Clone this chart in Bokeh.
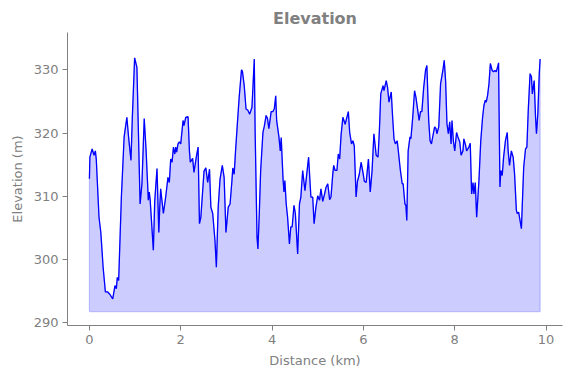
from bokeh.plotting import figure
from bokeh.models import FixedTicker, Range1d
from bokeh.embed import file_html
from bokeh.resources import INLINE

# Distance (km) and elevation (m)
distance = [
    0.00, 0.01, 0.06, 0.10, 0.13, 0.15, 0.21, 0.25, 0.30, 0.35, 0.40, 0.45, 0.51, 0.56, 0.59, 0.61, 0.64,
    0.70, 0.76, 0.82, 0.86, 0.91, 0.94, 0.99, 1.04, 1.11, 1.15, 1.20, 1.24, 1.29, 1.31, 1.33, 1.40, 1.43,
    1.48, 1.52, 1.54,
    1.56, 1.62, 1.67, 1.72, 1.75, 1.78, 1.81, 1.84, 1.87, 1.89, 1.91, 1.94, 1.97, 2.00, 2.05, 2.07, 2.11,
    2.16, 2.19, 2.21, 2.26, 2.29, 2.34, 2.38, 2.41, 2.44, 2.48, 2.51, 2.55, 2.59, 2.63, 2.66, 2.70, 2.75,
    2.78, 2.82, 2.86, 2.91, 2.95, 2.99, 3.04, 3.08, 3.12, 3.14, 3.17, 3.20, 3.24, 3.28,
    3.33, 3.35, 3.39, 3.43, 3.47, 3.51, 3.56, 3.61, 3.63, 3.67, 3.69, 3.72, 3.75, 3.80, 3.83, 3.87, 3.90,
    3.93, 3.98, 4.02, 4.05, 4.08, 4.10, 4.15, 4.18, 4.20, 4.24, 4.26, 4.28, 4.31, 4.34, 4.38, 4.41, 4.44,
    4.48, 4.51, 4.56, 4.60, 4.63, 4.67, 4.72, 4.76, 4.80, 4.85, 4.89, 4.92,
    4.96, 5.00, 5.04, 5.07, 5.11, 5.15, 5.18, 5.22, 5.26, 5.29, 5.33, 5.35, 5.38, 5.42, 5.45, 5.48, 5.51,
    5.55, 5.60, 5.67, 5.70, 5.74, 5.77, 5.80, 5.84, 5.87, 5.91, 5.95, 5.99, 6.02, 6.06, 6.11, 6.15, 6.19,
    6.23, 6.28, 6.32, 6.35, 6.38, 6.43, 6.45, 6.50, 6.53, 6.56, 6.61, 6.64,
    6.67, 6.70, 6.74, 6.76, 6.81, 6.85, 6.87, 6.91, 6.93, 6.95, 6.98, 7.02, 7.04, 7.08, 7.12, 7.15, 7.19,
    7.22, 7.25, 7.28, 7.32, 7.36, 7.39, 7.43, 7.46, 7.49, 7.53, 7.56, 7.59, 7.61, 7.65, 7.69, 7.74, 7.77,
    7.80, 7.83, 7.86, 7.89, 7.92, 7.94, 7.97, 8.00, 8.04, 8.07, 8.11, 8.14, 8.18, 8.20, 8.24, 8.26,
    8.31, 8.34, 8.37, 8.40, 8.42, 8.45, 8.48, 8.53, 8.57, 8.61, 8.64, 8.67, 8.69, 8.72, 8.75, 8.78, 8.82,
    8.85, 8.88, 8.91, 8.94, 8.96, 8.99, 9.01, 9.04, 9.07, 9.11, 9.15, 9.17, 9.20, 9.24, 9.28, 9.31, 9.35,
    9.37, 9.40, 9.43, 9.46, 9.51, 9.55, 9.58, 9.61, 9.65, 9.68, 9.70, 9.74, 9.77, 9.79, 9.82, 9.85, 9.87,
]
elevation = [
    312.8, 316.2, 317.5, 316.5, 317.2, 315.9, 306.7, 304.3, 298.8, 294.9, 294.9, 294.5, 293.8, 295.9, 295.4,
    297.2, 296.7, 309.9, 319.4, 322.5, 319.2, 315.7, 322.5, 331.9, 330.4, 308.8, 312.0, 322.3, 317.5, 309.4,
    310.7, 309.5, 301.5, 309.2, 314.4, 304.3, 308.3,
    311.2, 307.3, 309.9, 313.0, 312.2, 315.9, 315.4, 317.8, 316.7, 317.8, 317.0, 318.3, 318.6, 318.3, 322.0,
    321.2, 322.5, 322.6, 317.2, 315.4, 316.0, 313.8, 316.2, 317.8, 305.7, 306.7, 310.9, 314.0, 314.5, 312.2,
    314.3, 308.3, 307.3, 303.0, 298.8, 308.3, 312.7, 314.9, 313.0, 304.3, 308.3, 308.8, 312.4, 314.5, 313.5,
    317.2, 321.5, 325.7,
    330.0, 329.8, 327.5, 323.8, 323.6, 323.0, 324.1, 331.7, 319.9, 303.6, 301.7, 307.3, 314.1, 320.1, 321.1,
    322.8, 322.3, 320.7, 323.4, 323.4, 323.9, 325.9, 322.0, 319.4, 317.2, 319.3, 312.8, 310.7, 312.5, 308.8,
    306.7, 302.5, 305.2, 305.2, 308.6, 307.3, 300.9, 308.8, 309.9, 314.1, 310.9, 313.6, 316.2, 309.9, 309.9,
    305.7,
    308.3, 310.1, 309.4, 311.2, 309.2, 310.4, 311.4, 312.0, 309.5, 309.9, 313.6, 314.9, 314.1, 314.1, 316.7,
    315.9, 319.6, 322.5, 321.4, 323.4, 320.1, 318.3, 318.8, 318.0, 309.9, 312.4, 313.5, 315.4, 313.8, 312.4,
    312.2, 315.9, 310.7, 314.1, 319.9, 316.5, 316.2, 320.4, 326.2, 327.5, 326.7, 328.3, 327.2, 324.9, 326.5,
    322.5,
    319.1, 318.3, 318.8, 317.5, 314.1, 312.0, 312.0, 308.8, 308.6, 306.2, 317.2, 319.4, 319.1, 322.5, 326.7,
    325.7, 323.6, 322.0, 323.4, 323.4, 327.2, 329.9, 330.7, 322.0, 318.8, 318.3, 319.9, 321.0, 320.7, 319.9,
    321.0, 327.8, 329.9, 331.5, 328.3, 321.5, 319.9, 321.8, 318.3, 322.0, 318.8, 317.2, 320.1, 319.4, 318.6,
    316.5, 317.2, 319.1, 318.0, 317.2,
    317.8, 318.4, 310.4, 312.2, 310.4, 312.2, 306.7, 312.5, 318.8, 322.5, 324.4, 325.2, 324.9, 326.0, 327.8,
    331.0, 329.9, 329.7, 329.9, 329.7, 330.5, 331.1, 311.5, 314.1, 313.3, 316.2, 318.8, 320.1, 317.2, 314.9,
    317.2, 316.2, 313.6, 307.8, 307.3, 307.5, 306.2, 304.9, 314.6, 317.5, 317.8, 323.6, 329.4, 328.9, 326.2,
    328.3, 322.5, 319.9, 323.1, 329.2, 331.7,
]
x_ticks = [0, 2, 4, 6, 8, 10]
y_ticks = [290, 300, 310, 320, 330]

base = min(elevation) - 2.0

GRAY = "#808080"
FONT = "DejaVu Sans"

p = figure(width=571, height=378, output_backend="svg", toolbar_location=None,
           x_range=Range1d(-0.48, 10.36), y_range=Range1d(289.6, 335.9),
           min_border_left=67, min_border_right=9, min_border_top=32, min_border_bottom=53,
           title="Elevation")

p.title.align = "center"
p.title.text_font = FONT
p.title.text_font_size = "16px"
p.title.text_font_style = "bold"
p.title.text_color = GRAY

px = [distance[0]] + distance + [distance[-1]]
py = [base] + elevation + [base]
p.patch(px, py, fill_color="blue", fill_alpha=0.2, line_color="blue", line_alpha=0.2, line_width=1.2)
p.line(distance, elevation, line_color="blue", line_width=1.3)

p.outline_line_color = None
p.grid.visible = False

for ax, ticks, label in ((p.xaxis[0], x_ticks, "Distance (km)"), (p.yaxis[0], y_ticks, "Elevation (m)")):
    ax.ticker = FixedTicker(ticks=ticks)
    ax.axis_label = label
    ax.axis_label_text_font = FONT
    ax.axis_label_text_font_size = "13px"
    ax.axis_label_text_font_style = "normal"
    ax.axis_label_text_color = GRAY
    ax.major_label_text_font = FONT
    ax.major_label_text_font_size = "13px"
    ax.major_label_text_color = GRAY
    ax.axis_line_color = GRAY
    ax.major_tick_line_color = GRAY
    ax.major_tick_out = 5
    ax.major_tick_in = 0
    ax.minor_tick_line_color = None
    ax.major_label_standoff = 4
    ax.axis_label_standoff = 6

open("out.html", "w").write(file_html(p, INLINE))
